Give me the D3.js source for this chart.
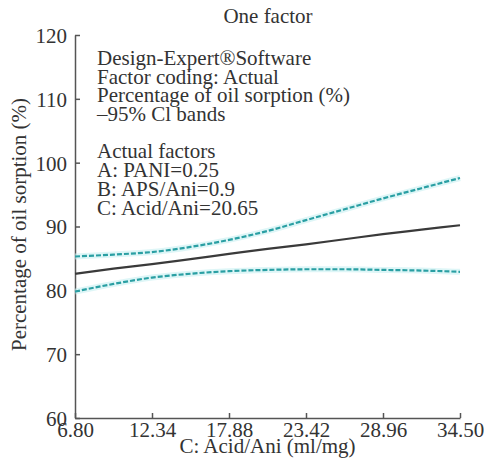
<!DOCTYPE html>
<html>
<head>
<meta charset="utf-8">
<script src="https://cdn.jsdelivr.net/npm/d3@7"></script>
<style>
  body { margin: 0; background: #fff; }
  svg text { font-family: "Liberation Serif", "DejaVu Serif", serif; fill: #333; }
</style>
</head>
<body>
<div id="chart"></div>
<script>
// factor C values and the predicted response with its 95% CI band
var acidAni = [6.80, 9.57, 12.34, 15.11, 17.88, 20.65, 23.42, 26.19, 28.96, 31.73, 34.50];
var predicted = [82.6, 83.4, 84.1, 84.9, 85.7, 86.5, 87.2, 88.0, 88.8, 89.5, 90.2];
var upperCI = [85.3, 85.6, 86.0, 86.8, 87.9, 89.3, 91.0, 92.7, 94.4, 96.0, 97.6];
var lowerCI = [79.8, 81.0, 82.0, 82.6, 83.0, 83.2, 83.3, 83.3, 83.2, 83.1, 82.9];
var xTicks = [6.80, 12.34, 17.88, 23.42, 28.96, 34.50];
var yTicks = [60, 70, 80, 90, 100, 110, 120];
var notes = ["Design-Expert\u00AESoftware", "Factor coding: Actual",
  "Percentage of oil sorption (%)", "\u201395% Cl bands"];
var factors = ["Actual factors", "A: PANI=0.25", "B: APS/Ani=0.9", "C: Acid/Ani=20.65"];

var width = 484, height = 475;
var margin = {top: 35, right: 24, bottom: 57, left: 75};

var svg = d3.select("#chart").append("svg")
    .attr("width", width)
    .attr("height", height);

var x = d3.scaleLinear()
    .domain([6.80, 34.50])
    .range([margin.left, width - margin.right]);

var y = d3.scaleLinear()
    .domain([60, 120])
    .range([height - margin.bottom, margin.top]);

var xAxis = d3.axisBottom(x).tickValues(xTicks).tickSize(-5).tickSizeOuter(0)
    .tickFormat(d3.format(".2f"));
var yAxis = d3.axisLeft(y).tickValues(yTicks).tickSize(-5).tickSizeOuter(0);

var gx = svg.append("g")
    .attr("transform", "translate(0," + y(60) + ")")
    .call(xAxis);
gx.selectAll("text").attr("dy", null).attr("y", 19).style("font-size", "21px");

var gy = svg.append("g")
    .attr("transform", "translate(" + x(6.80) + ",0)")
    .call(yAxis);
gy.selectAll("text").attr("x", -8).attr("dy", "0.35em").style("font-size", "21px");

svg.selectAll(".domain, .tick line").attr("stroke", "#555").attr("stroke-width", 1.5);

// lines
var line = function(vals) {
  return d3.line()
    .x(function(d, i) { return x(acidAni[i]); })
    .y(function(d) { return y(d); })
    .curve(d3.curveMonotoneX)(vals);
};

[upperCI, lowerCI].forEach(function(vals) {
  svg.append("path")
      .attr("d", line(vals))
      .attr("fill", "none")
      .attr("stroke", "#c8f0f2")
      .attr("stroke-width", 6)
      .attr("stroke-opacity", 0.6);
  svg.append("path")
      .attr("d", line(vals))
      .attr("fill", "none")
      .attr("stroke", "#2a9fa3")
      .attr("stroke-width", 2.2)
      .attr("stroke-dasharray", "5,2");
});

svg.append("path")
    .attr("d", line(predicted))
    .attr("fill", "none")
    .attr("stroke", "#3a3a3a")
    .attr("stroke-width", 2.2);

// titles
svg.append("text")
    .attr("x", 268).attr("y", 23)
    .attr("text-anchor", "middle")
    .style("font-size", "21px")
    .text("One factor");

svg.append("text")
    .attr("x", (x(6.80) + x(34.50)) / 2).attr("y", 453)
    .attr("text-anchor", "middle")
    .style("font-size", "21px")
    .text("C: Acid/Ani (ml/mg)");

svg.append("text")
    .attr("transform", "translate(26," + (y(90) - 2) + ") rotate(-90)")
    .attr("text-anchor", "middle")
    .style("font-size", "21px")
    .text("Percentage of oil sorption (%)");

// annotation block
var note = svg.append("g").style("font-size", "21px");
note.selectAll(".n1").data(notes).enter().append("text")
    .attr("x", 97)
    .attr("y", function(d, i) { return 65 + i * 18.7; })
    .text(function(d) { return d; });
note.selectAll(".n2").data(factors).enter().append("text")
    .attr("x", 97)
    .attr("y", function(d, i) { return 158 + i * 19; })
    .text(function(d) { return d; });
</script>
</body>
</html>
